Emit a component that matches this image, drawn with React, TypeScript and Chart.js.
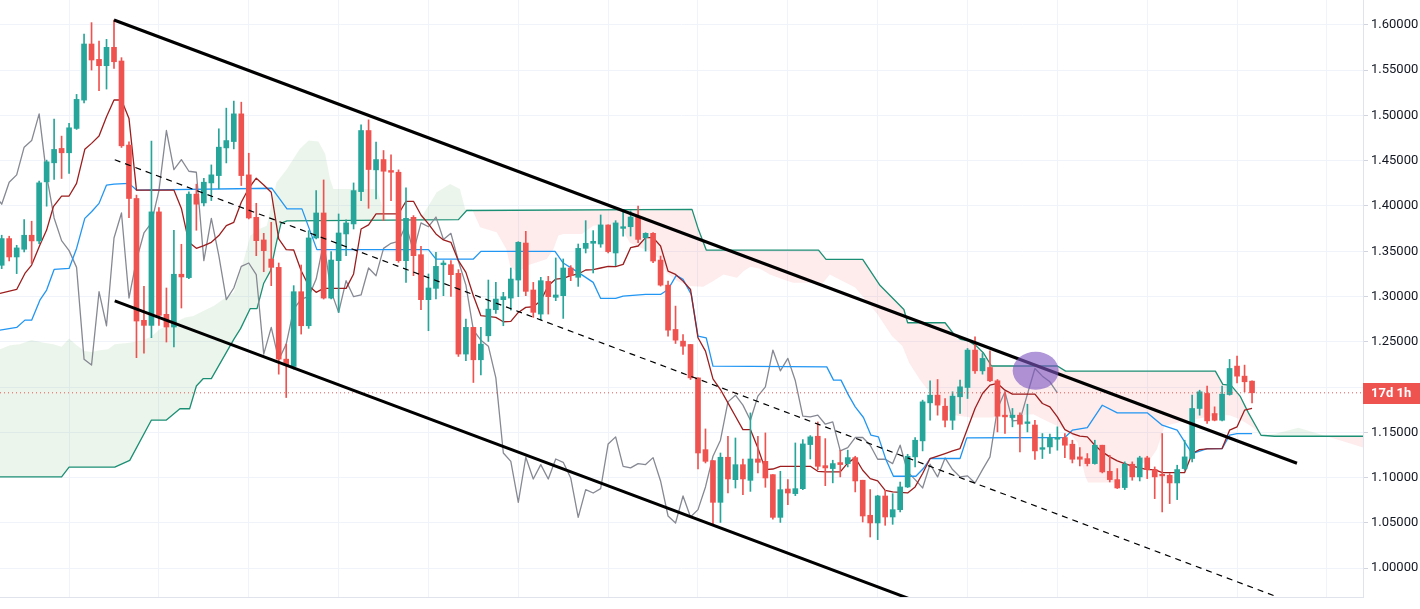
import React, { useEffect, useRef } from 'react';
import { Chart, registerables } from 'chart.js';

Chart.register(...registerables);

// ---- Candles (bar index 0..167) ----
const opens = [
  1.3345, 1.364, 1.3437, 1.3522, 1.3677, 1.3614, 1.4267, 1.4477, 1.4636, 1.4588,
  1.4857, 1.517, 1.579, 1.562, 1.555, 1.5753, 1.5602, 1.4673, 1.4083, 1.2737,
  1.2681, 1.3935, 1.2803, 1.2663, 1.3246, 1.3209, 1.4131, 1.4034, 1.4255, 1.4336,
  1.4642, 1.4712, 1.5018, 1.4344, 1.3875, 1.3625, 1.3414, 1.3322, 1.2308, 1.2227,
  1.3053, 1.2677, 1.3647, 1.3923, 1.2983, 1.3396, 1.3691, 1.3802, 1.4159, 1.4834,
  1.4399, 1.4513, 1.4392, 1.4373, 1.3396, 1.3875, 1.3462, 1.2965, 1.309, 1.3351,
  1.3352, 1.3256, 1.2364, 1.2659, 1.2301, 1.2566, 1.2854, 1.2965, 1.2983, 1.3182,
  1.3591, 1.3072, 1.2806, 1.3167, 1.2991, 1.3009, 1.3315, 1.3212, 1.3532, 1.3588,
  1.358, 1.3791, 1.3481, 1.3753, 1.3771, 1.3878, 1.365, 1.3698, 1.3403, 1.3126,
  1.2636, 1.2507, 1.247, 1.2101, 1.1308, 1.1187, 1.0726, 1.1224, 1.0976, 1.1142,
  1.0969, 1.1205, 1.1179, 1.1032, 1.056, 1.0873, 1.0822, 1.0877, 1.1364, 1.1456,
  1.1131, 1.1099, 1.1165, 1.1154, 1.122, 1.097, 1.0583, 1.0498, 1.0796, 1.0564,
  1.0645, 1.0896, 1.1228, 1.1405, 1.1825, 1.191, 1.1788, 1.1633, 1.1892, 1.1995,
  1.2408, 1.2179, 1.2216, 1.2069, 1.1689, 1.1663, 1.1689, 1.1597, 1.158, 1.1312,
  1.1338, 1.1423, 1.1442, 1.1368, 1.1228, 1.1209, 1.1154, 1.1357, 1.1069, 1.0977,
  1.0889, 1.1147, 1.1007, 1.1217, 1.1088, 1.1036, 1.1025, 1.094, 1.1099, 1.121,
  1.1763, 1.1929, 1.1707, 1.1633, 1.1917, 1.2231, 1.212, 1.2065,
];
const highs = [
  1.3677, 1.3666, 1.3566, 1.385, 1.3832, 1.4274, 1.4507, 1.496, 1.4772, 1.4912,
  1.5233, 1.59, 1.6026, 1.5823, 1.5841, 1.6055, 1.5639, 1.471, 1.412, 1.3113,
  1.4717, 1.3983, 1.3094, 1.3732, 1.3577, 1.4156, 1.4241, 1.4307, 1.4454, 1.4853,
  1.5081, 1.5159, 1.5147, 1.4583, 1.403, 1.3698, 1.382, 1.337, 1.2474, 1.312,
  1.3348, 1.3728, 1.417, 1.4288, 1.3496, 1.3912, 1.3846, 1.4255, 1.4897, 1.4952,
  1.4705, 1.4613, 1.4565, 1.4399, 1.42, 1.3894, 1.3554, 1.3249, 1.3488, 1.3396,
  1.3396, 1.3297, 1.2751, 1.2659, 1.2659, 1.3182, 1.3156, 1.3046, 1.3315, 1.3606,
  1.372, 1.3156, 1.3212, 1.3223, 1.3426, 1.3415, 1.3341, 1.358, 1.3838, 1.3728,
  1.3901, 1.3791, 1.3838, 1.3945, 1.3945, 1.40, 1.3705, 1.3705, 1.3447, 1.317,
  1.2894, 1.258, 1.247, 1.2101, 1.1537, 1.1187, 1.1271, 1.1456, 1.1437, 1.1205,
  1.1714, 1.1456, 1.1493, 1.1032, 1.1069, 1.0976, 1.1382, 1.1419, 1.1463, 1.1614,
  1.143, 1.1191, 1.1302, 1.1302, 1.1235, 1.097, 1.0867, 1.0804, 1.0859, 1.0822,
  1.0951, 1.1257, 1.1442, 1.1855, 1.2069, 1.2083, 1.1873, 1.1947, 1.2076, 1.2426,
  1.2555, 1.2371, 1.24, 1.2083, 1.1947, 1.1763, 1.1715, 1.181, 1.1633, 1.1486,
  1.1479, 1.156, 1.1486, 1.1412, 1.1331, 1.1265, 1.1412, 1.1357, 1.1246, 1.1099,
  1.1173, 1.1173, 1.1235, 1.1235, 1.1117, 1.1486, 1.1044, 1.1136, 1.1412, 1.191,
  1.1965, 1.201, 1.1781, 1.201, 1.2305, 1.2342, 1.2242, 1.2069,
];
const lows = [
  1.3308, 1.3393, 1.3253, 1.3493, 1.3364, 1.3585, 1.3998, 1.4293, 1.4304, 1.4359,
  1.4846, 1.514, 1.5502, 1.5274, 1.5292, 1.552, 1.4647, 1.3872, 1.2324, 1.2375,
  1.2545, 1.2681, 1.2497, 1.2442, 1.2873, 1.3198, 1.3732, 1.400, 1.406, 1.4189,
  1.4476, 1.4631, 1.4226, 1.3857, 1.3451, 1.3274, 1.312, 1.2142, 1.1884, 1.2198,
  1.2585, 1.2648, 1.3636, 1.2972, 1.2972, 1.2824, 1.3451, 1.3746, 1.406, 1.3975,
  1.4078, 1.3838, 1.406, 1.3378, 1.3156, 1.323, 1.2854, 1.2622, 1.2972, 1.3009,
  1.3001, 1.2338, 1.229, 1.205, 1.2135, 1.2503, 1.2813, 1.2677, 1.285, 1.2998,
  1.3009, 1.2769, 1.2743, 1.2806, 1.2954, 1.2758, 1.3175, 1.3112, 1.3481, 1.326,
  1.3544, 1.3481, 1.3341, 1.3668, 1.3668, 1.3594, 1.3502, 1.3373, 1.3115, 1.2562,
  1.2481, 1.2359, 1.2083, 1.1094, 1.1161, 1.0479, 1.0504, 1.0829, 1.0884, 1.081,
  1.0847, 1.105, 1.0892, 1.0541, 1.0504, 1.07, 1.08, 1.0866, 1.1205, 1.1087,
  1.091, 1.0941, 1.1007, 1.1117, 1.0841, 1.0509, 1.0343, 1.0314, 1.0472, 1.0483,
  1.0619, 1.0889, 1.1117, 1.1294, 1.1633, 1.1689, 1.156, 1.153, 1.1707, 1.1873,
  1.215, 1.2142, 1.2058, 1.1504, 1.1486, 1.156, 1.1283, 1.1504, 1.12, 1.121,
  1.1265, 1.1302, 1.122, 1.1161, 1.1128, 1.1128, 1.1147, 1.1051, 1.0951, 1.0878,
  1.0867, 1.097, 1.0962, 1.0988, 1.0767, 1.062, 1.0712, 1.0756, 1.108, 1.1173,
  1.1689, 1.1597, 1.1626, 1.1626, 1.191, 1.2046, 1.1947, 1.1825,
];
const closes = [
  1.364, 1.3437, 1.3537, 1.3677, 1.3614, 1.4256, 1.4488, 1.4625, 1.4588, 1.4864,
  1.5178, 1.579, 1.5613, 1.555, 1.5753, 1.5594, 1.4665, 1.4083, 1.2729, 1.2681,
  1.3935, 1.2792, 1.2663, 1.3246, 1.3216, 1.4131, 1.402, 1.4263, 1.4344, 1.465,
  1.4723, 1.5018, 1.4336, 1.3868, 1.3617, 1.3507, 1.3322, 1.2308, 1.2242, 1.3053,
  1.2677, 1.3647, 1.3923, 1.2983, 1.3403, 1.3702, 1.3813, 1.417, 1.4834, 1.4403,
  1.4513, 1.4384, 1.4373, 1.3396, 1.3864, 1.3451, 1.2965, 1.3094, 1.3333, 1.337,
  1.3241, 1.2364, 1.2659, 1.2301, 1.2474, 1.2861, 1.2972, 1.2998, 1.3193, 1.3599,
  1.3057, 1.2825, 1.3175, 1.2998, 1.3017, 1.3315, 1.323, 1.3532, 1.3588, 1.361,
  1.3791, 1.3496, 1.3813, 1.3771, 1.3878, 1.3631, 1.3698, 1.3392, 1.3126, 1.2628,
  1.2518, 1.2451, 1.2101, 1.1271, 1.1179, 1.0726, 1.1224, 1.0984, 1.1142, 1.0984,
  1.1205, 1.1168, 1.0995, 1.056, 1.0866, 1.0829, 1.0877, 1.1371, 1.1449, 1.1124,
  1.1106, 1.1154, 1.1143, 1.122, 1.0962, 1.0575, 1.0498, 1.0796, 1.0564, 1.0645,
  1.0896, 1.1235, 1.1412, 1.1836, 1.191, 1.18, 1.1633, 1.1899, 1.2002, 1.2408,
  1.2179, 1.2316, 1.2069, 1.1678, 1.167, 1.1689, 1.1589, 1.1615, 1.1294, 1.133,
  1.1442, 1.1442, 1.1357, 1.1202, 1.1202, 1.1154, 1.1357, 1.1062, 1.0977, 1.0885,
  1.1147, 1.1007, 1.1217, 1.1088, 1.1007, 1.1018, 1.094, 1.1088, 1.1228, 1.1763,
  1.1947, 1.1626, 1.1633, 1.1921, 1.2205, 1.212, 1.2058, 1.1936,
];

// ---- Ichimoku lines: [bar index, price] ----
const tenkanPts: [number, number][] = [
  [-0.23, 1.3034], [2, 1.3078], [3.1, 1.3255], [4, 1.3347], [5.1, 1.3568], [6, 1.3734], [6.9, 1.3992],
  [8, 1.411], [9, 1.411], [10, 1.425], [11.1, 1.4626], [12, 1.4692], [13, 1.4773], [14, 1.4987],
  [15, 1.5171], [16, 1.5171], [17, 1.4968], [18, 1.4176], [23, 1.4176], [24, 1.3973], [25, 1.3599],
  [26, 1.3532], [27, 1.3562], [28, 1.3599], [29, 1.3673], [30, 1.3783], [31, 1.382], [32, 1.4041],
  [33, 1.4196], [34, 1.4307], [35, 1.4233], [36, 1.4152], [37, 1.3636], [38, 1.3518], [39, 1.3514],
  [40, 1.3285], [41, 1.3119], [42, 1.3046], [43, 1.309], [46, 1.309], [47, 1.3249], [48, 1.3746],
  [49, 1.3791], [50, 1.3912], [53, 1.3912], [54, 1.4052], [55, 1.4052], [56, 1.3901], [57, 1.3802],
  [58, 1.3691], [59, 1.3625], [60, 1.3599], [61, 1.3396], [62, 1.3267], [63, 1.3009], [64, 1.2788],
  [66, 1.2769], [67, 1.2721], [68, 1.2725], [69, 1.2824], [70, 1.288], [71, 1.2887], [72, 1.2954],
  [73, 1.312], [74, 1.3193], [75, 1.3201], [76, 1.323], [77, 1.3249], [78, 1.3293], [79, 1.3296],
  [80, 1.3315], [81, 1.3333], [82, 1.333], [83, 1.3355], [84, 1.3539], [85, 1.3558], [86, 1.365],
  [87, 1.365], [88, 1.3558], [89, 1.3281], [90, 1.3244], [91, 1.317], [92, 1.3078], [93, 1.2544],
  [94, 1.2396], [95, 1.209], [96, 1.1972], [97, 1.1825], [98, 1.1677], [99, 1.153], [100, 1.153],
  [101, 1.1327], [102, 1.1087], [103, 1.1094], [104, 1.1124], [108, 1.1124], [109, 1.1069],
  [110, 1.1062], [112, 1.1062], [113, 1.1162], [114, 1.1217], [115, 1.108], [116, 1.0988],
  [117, 1.0962], [118, 1.0859], [119, 1.0841], [121, 1.083], [122, 1.0896], [123, 1.1044],
  [124, 1.121], [126, 1.1265], [127, 1.1294], [128, 1.132], [129, 1.1541], [130, 1.1763],
  [131, 1.1928], [132, 1.2021], [133, 1.2039], [134, 1.1965], [135, 1.1921], [138, 1.1921],
  [139, 1.1818], [140, 1.1781], [141, 1.167], [142, 1.153], [143, 1.1486], [144, 1.1457],
  [145, 1.1449], [146, 1.1357], [147, 1.1283], [148, 1.1228], [149, 1.1184], [150, 1.1154],
  [151, 1.1125], [152, 1.1106], [153, 1.1088], [154, 1.1088], [155, 1.1055], [158, 1.1055],
  [159, 1.1265], [160, 1.1309], [161, 1.1316], [163, 1.132], [164, 1.1523], [165, 1.156],
  [166, 1.1744], [167, 1.1763],
];
const kijunPts: [number, number][] = [
  [-0.23, 1.2629], [2, 1.2658], [3.1, 1.2739], [4, 1.2739], [5.1, 1.296], [6, 1.3071], [7, 1.3299],
  [9, 1.331], [10, 1.3531], [11.1, 1.3863], [12, 1.3937], [13, 1.4029], [14, 1.4231], [15, 1.4242],
  [17, 1.425], [18, 1.4176], [36.1, 1.4196], [38.1, 1.3968], [40.1, 1.3968], [42.1, 1.3518],
  [57, 1.3518], [58, 1.3414], [63, 1.3414], [64, 1.3499], [73.9, 1.3499], [75, 1.337], [77, 1.3267],
  [79, 1.3156], [80, 1.2979], [82, 1.2979], [83, 1.3004], [86, 1.3023], [88, 1.3023], [89, 1.3078],
  [90.1, 1.3233], [91, 1.3189], [92.1, 1.3023], [93, 1.2562], [94.1, 1.2544], [95, 1.223],
  [110.2, 1.2223], [111.1, 1.2076], [112.1, 1.2076], [113.1, 1.191], [114, 1.1781], [115.1, 1.1663],
  [116.1, 1.1468], [117.1, 1.1449], [118.1, 1.1198], [119.1, 1.1014], [122.1, 1.1014],
  [123.1, 1.1099], [124, 1.121], [128, 1.121], [128.9, 1.1438], [142, 1.1442], [143, 1.1523],
  [145, 1.1552], [147, 1.1799], [149, 1.1715], [153, 1.1715], [155, 1.1578], [157, 1.1523],
  [159, 1.1265], [161, 1.132], [163, 1.132], [164, 1.1468], [165, 1.1486], [167, 1.1486],
];
const senkouAPts: [number, number][] = [
  [-0.23, 1.2417], [1.1, 1.2461], [2.4, 1.2472], [4, 1.252], [5.6, 1.249], [6.9, 1.2472], [8, 1.2446],
  [9, 1.2535], [10, 1.2461], [11.1, 1.2398], [12, 1.2387], [13.1, 1.2406], [14.2, 1.2417],
  [15.1, 1.2472], [17.1, 1.249], [18.9, 1.252], [20, 1.2557], [21.1, 1.2638], [23.1, 1.2712],
  [24.5, 1.2767], [25.6, 1.2785], [26.5, 1.2822], [28.3, 1.2896], [29.6, 1.297], [31, 1.3043],
  [32.3, 1.3394], [33.2, 1.367], [34.3, 1.3744], [35.4, 1.3781], [36.7, 1.426], [38.1, 1.4408],
  [39.8, 1.4629], [41, 1.4723], [42.3, 1.4712], [43.2, 1.4576], [43.85, 1.43], [44.3, 1.4189],
  [50.1, 1.4189], [51.4, 1.3846], [53.2, 1.3857], [55.9, 1.3857], [57, 1.4004], [58.1, 1.4152],
  [59.9, 1.4244], [61.2, 1.4189], [61.9, 1.3968], [62.8, 1.3968], [63.9, 1.3765], [66.1, 1.3709],
  [67.4, 1.3525], [67.9, 1.3341], [68.6, 1.3285], [69.2, 1.3278], [70.1, 1.3341], [72.8, 1.3414],
  [73.7, 1.3525], [74.35, 1.3673], [75, 1.3691], [77.5, 1.3691], [79, 1.3783], [81, 1.38],
  [82.6, 1.378], [83.9, 1.3594], [85.3, 1.3539], [86.6, 1.3502], [87.9, 1.341], [88.8, 1.3263],
  [90.2, 1.317], [91.9, 1.3115], [93.7, 1.3108], [95.05, 1.317], [96.4, 1.3244], [98.2, 1.3207],
  [99.1, 1.3281], [100, 1.3329], [101.3, 1.3307], [102.6, 1.3244], [104.4, 1.3189], [105.7, 1.3152],
  [109.7, 1.3152], [110.6, 1.3244], [114, 1.31], [117, 1.28], [118.9, 1.2563], [120.3, 1.2452],
  [121.2, 1.2268], [122.6, 1.2085], [124, 1.1938], [125.8, 1.179], [127.2, 1.1688], [129.5, 1.1662],
  [132.2, 1.1662], [135.9, 1.1688], [137.8, 1.1699], [139.1, 1.1643], [142.4, 1.1515],
  [143.7, 1.1386], [144.7, 1.1018], [145.1, 1.0945], [148.8, 1.0945], [150.2, 1.1055],
  [153.4, 1.1202], [154.3, 1.1313], [155.3, 1.157], [158, 1.1625], [162.2, 1.1688], [164, 1.1688],
  [165.4, 1.1643], [167.2, 1.1551], [168.2, 1.1467], [170, 1.148], [173.2, 1.1551], [176.5, 1.1467],
  [179.7, 1.1386], [181.82, 1.1331],
];
const senkouBPts: [number, number][] = [
  [-0.23, 1.1008], [8, 1.1008], [9, 1.1115], [15.1, 1.1115], [17.1, 1.1189], [20, 1.1635],
  [22, 1.1635], [23.8, 1.176], [25.1, 1.176], [26, 1.2011], [26.9, 1.2092], [28, 1.2092],
  [31, 1.2527], [31.9, 1.2645], [33.2, 1.2867], [34.1, 1.2867], [35, 1.3147], [35.9, 1.3283],
  [36.7, 1.3597], [37.3, 1.3807], [38.1, 1.3836], [61, 1.385], [62.1, 1.395], [92.2, 1.3963],
  [93.05, 1.3742], [94.1, 1.3513], [109.1, 1.3513], [110.1, 1.341], [115, 1.341], [117.3, 1.3124],
  [120.5, 1.2857], [121, 1.271], [126, 1.271], [127.2, 1.2581], [128.1, 1.2526], [129.2, 1.2507],
  [130.2, 1.2452], [131.1, 1.2379], [132.2, 1.2232], [141, 1.2232], [142.1, 1.2176],
  [162.1, 1.2176], [163.1, 1.2029], [164.2, 1.2018], [165.4, 1.19], [166.5, 1.1717],
  [168.2, 1.1467], [170, 1.1456], [181.82, 1.1456],
];

// ---- Drawings ----
const upperChannel: [number, number][] = [[15, 1.6055], [173, 1.1158]];
const lowerChannel: [number, number][] = [[15.1, 1.2951], [122, 0.9637]];
const midChannel: [number, number][] = [[15.1, 1.4511], [170.1, 0.969]];
const markerCenter: [number, number] = [138.1, 1.218];
const countdownLabel = '17d 1h';

const timeGridBars = [9, 21, 33, 45, 57, 69, 81, 93, 105, 117, 129, 141, 153, 165, 177];
const yTickStep = 0.05;
const xMin = -0.227;
const xMax = 181.82;
const yMax = 1.6276;
const yMin = 0.968;

const UP = '#26a69a';
const DOWN = '#ef5350';

const toXY = (pts: [number, number][]) => pts.map(([x, y]) => ({ x, y }));

export default function App() {
  const ref = useRef<HTMLCanvasElement>(null);

  useEffect(() => {
    document.body.style.margin = '0';
    const last = closes[closes.length - 1];
    const candleColors = closes.map((c, i) => (c >= opens[i] ? UP : DOWN));

    const overlayPlugin = {
      id: 'overlay',
      afterDatasetsDraw(chart: any) {
        const { ctx, scales } = chart;
        const cx = scales.x.getPixelForValue(markerCenter[0]);
        const cy = scales.y.getPixelForValue(markerCenter[1]);
        ctx.save();
        ctx.beginPath();
        ctx.ellipse(cx, cy, 23, 19, 0, 0, Math.PI * 2);
        ctx.fillStyle = 'rgba(126, 87, 194, 0.62)';
        ctx.fill();
        ctx.restore();
      },
      afterDraw(chart: any) {
        const { ctx, scales, chartArea, width } = chart;
        const y = scales.y.getPixelForValue(last);
        ctx.save();
        ctx.fillStyle = DOWN;
        ctx.fillRect(chartArea.right, Math.round(y) - 10, width - chartArea.right, 21);
        ctx.fillStyle = '#ffffff';
        ctx.font = 'bold 13px Roboto, "Liberation Sans", sans-serif';
        ctx.textBaseline = 'middle';
        ctx.textAlign = 'left';
        ctx.fillText(countdownLabel, chartArea.right + 8, Math.round(y) + 0.5);
        ctx.restore();
      },
    };

    const lineBase = { type: 'line' as const, pointRadius: 0, tension: 0, fill: false, borderJoinStyle: 'round' as const };

    const chart = new Chart(ref.current as HTMLCanvasElement, {
      type: 'bar',
      data: {
        datasets: [
          {
            ...lineBase,
            label: 'Senkou A',
            data: toXY(senkouAPts),
            borderColor: 'rgba(0,0,0,0)',
            borderWidth: 1,
            fill: { target: 1, above: 'rgba(67, 160, 71, 0.1)', below: 'rgba(242, 54, 69, 0.1)' },
            order: 20,
          } as any,
          {
            ...lineBase,
            label: 'Senkou B',
            data: toXY(senkouBPts),
            borderColor: '#1b8f74',
            borderWidth: 1.3,
            order: 19,
          },
          {
            ...lineBase,
            label: 'Chikou',
            data: closes.map((c, i) => ({ x: i - 26, y: c })),
            borderColor: '#868993',
            borderWidth: 1.3,
            order: 15,
          },
          {
            ...lineBase,
            label: 'Kijun',
            data: toXY(kijunPts),
            borderColor: '#2196f3',
            borderWidth: 1.3,
            order: 14,
          },
          {
            ...lineBase,
            label: 'Tenkan',
            data: toXY(tenkanPts),
            borderColor: '#9c1d1d',
            borderWidth: 1.3,
            order: 13,
          },
          {
            type: 'bar',
            label: 'Wicks',
            data: closes.map((_, i) => ({ x: i, y: [lows[i], highs[i]] })),
            backgroundColor: candleColors,
            barThickness: 1,
            grouped: false,
            borderWidth: 0,
            order: 10,
          } as any,
          {
            type: 'bar',
            label: 'Bodies',
            data: closes.map((c, i) => ({ x: i, y: [opens[i], c] })),
            backgroundColor: candleColors,
            barThickness: 5,
            minBarLength: 1,
            grouped: false,
            borderWidth: 0,
            order: 9,
          } as any,
          {
            ...lineBase,
            label: 'Price',
            data: [{ x: xMin, y: last }, { x: xMax, y: last }],
            borderColor: DOWN,
            borderWidth: 1,
            borderDash: [1, 3],
            order: 5,
          },
          {
            ...lineBase,
            label: 'Mid',
            data: toXY(midChannel),
            borderColor: '#000000',
            borderWidth: 1.2,
            borderDash: [6, 5],
            order: 3,
          },
          {
            ...lineBase,
            label: 'Upper',
            data: toXY(upperChannel),
            borderColor: '#000000',
            borderWidth: 3,
            order: 2,
          },
          {
            ...lineBase,
            label: 'Lower',
            data: toXY(lowerChannel),
            borderColor: '#000000',
            borderWidth: 3,
            order: 2,
          },
        ],
      },
      options: {
        animation: false,
        responsive: false,
        events: [],
        layout: { padding: 0 },
        plugins: { legend: { display: false }, tooltip: { enabled: false } },
        scales: {
          x: {
            type: 'linear',
            min: xMin,
            max: xMax,
            offset: false,
            grid: { color: '#f0f3fa', offset: false, drawTicks: false },
            border: { display: true, color: '#e0e3eb' },
            ticks: { display: false },
            afterBuildTicks: (scale: any) => {
              scale.ticks = timeGridBars.map((v) => ({ value: v }));
            },
            afterFit: (scale: any) => {
              scale.height = 12;
              scale.paddingLeft = 0;
              scale.paddingRight = 0;
            },
          },
          y: {
            type: 'linear',
            position: 'right',
            min: yMin,
            max: yMax,
            grid: { color: '#f0f3fa', tickLength: 5, tickColor: '#d1d4dc' },
            border: { display: true, color: '#e0e3eb' },
            ticks: {
              stepSize: yTickStep,
              includeBounds: false,
              padding: 3,
              color: '#131722',
              font: { family: 'Roboto, "Liberation Sans", sans-serif', size: 13 },
              // the price label covers the tick that sits under it
              callback: (v: any) => (Math.abs(Number(v) - closes[closes.length - 1]) < 0.012 ? '' : Number(v).toFixed(5)),
            },
            afterFit: (scale: any) => {
              scale.width = 57;
              scale.paddingTop = 0;
              scale.paddingBottom = 0;
            },
          },
        },
      } as any,
      plugins: [overlayPlugin],
    });

    return () => chart.destroy();
  }, []);

  return (
    <div style={{ position: 'absolute', left: 0, top: 0, width: 1420, height: 609, background: '#ffffff' }}>
      <canvas ref={ref} width={1420} height={609} style={{ display: 'block', width: 1420, height: 609 }} />
    </div>
  );
}
